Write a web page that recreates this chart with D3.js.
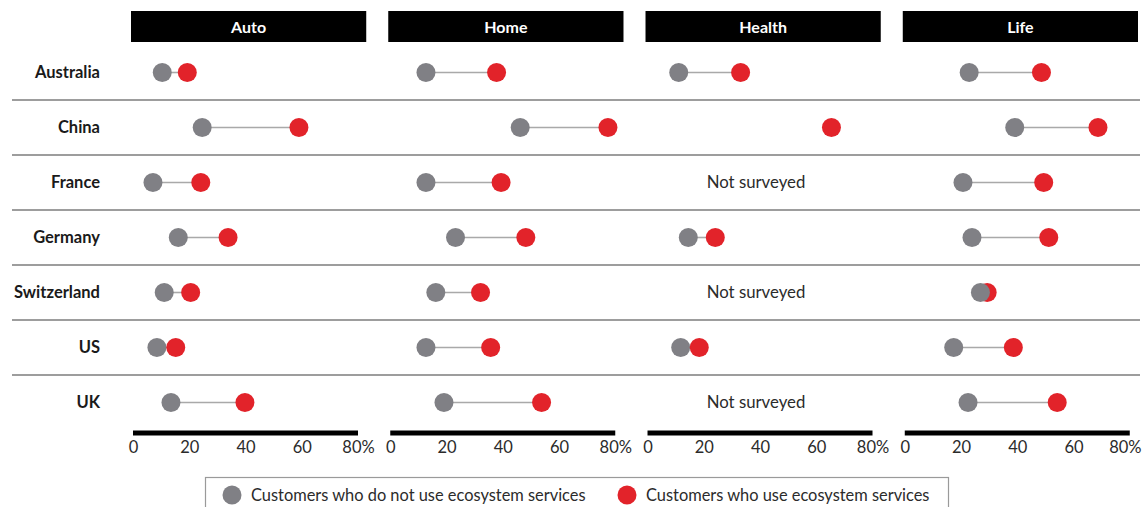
<!DOCTYPE html>
<html>
<head>
<meta charset="utf-8">
<script src="https://cdn.jsdelivr.net/npm/d3@7"></script>
<style>
  html, body { margin: 0; padding: 0; background: #fff; }
  svg { display: block; font-family: Lato, "Noto Sans", sans-serif; }
</style>
</head>
<body>
<svg id="chart" width="1143" height="507"></svg>
<script>
// Insurance lines shown as panels, countries as rows
const categories = ["Auto", "Home", "Health", "Life"];
const countries = ["Australia", "China", "France", "Germany", "Switzerland", "US", "UK"];

// Share of customers (%) – null means no value for that country
const nonUsersAuto   = [10.4, 24.6, 7.1, 16.1, 11.1, 8.5, 13.5];
const usersAuto      = [19.3, 59.0, 24.1, 33.8, 20.5, 15.2, 39.8];
const nonUsersHome   = [12.7, 46.2, 12.7, 23.2, 16.2, 12.7, 19.1];
const usersHome      = [37.8, 77.4, 39.4, 48.2, 32.1, 35.7, 53.8];
const nonUsersHealth = [11.1, null, null, 14.5, null, 11.8, null];
const usersHealth    = [33.1, 65.4, null, 24.1, null, 18.4, null];
const nonUsersLife   = [22.9, 39.1, 20.7, 23.9, 26.9, 17.4, 22.5];
const usersLife      = [48.6, 68.7, 49.4, 51.2, 29.3, 38.6, 54.2];

// Rows where the health line was not part of the survey
const notSurveyed = { Health: ["France", "Switzerland", "UK"] };
// Rows where the non-user dot sits in front of the user dot
const nonUserInFront = { Life: ["Switzerland"] };

const tickValues = [0, 20, 40, 60, 80];
const seriesNames = ["Customers who do not use ecosystem services", "Customers who use ecosystem services"];

const nonUsers = { Auto: nonUsersAuto, Home: nonUsersHome, Health: nonUsersHealth, Life: nonUsersLife };
const users    = { Auto: usersAuto,    Home: usersHome,    Health: usersHealth,    Life: usersLife };

const GREY = "#808085", RED = "#e2232a", TEXT = "#2b2b2b";
const R = 9.5;
const W = 1143;

const svg = d3.select("#chart");

const panelX = d3.scaleBand().domain(categories).range([131, 1138]).paddingInner(0.0856);
const rowY = d3.scaleBand().domain(countries).range([45, 430]);
const axisWidth = 225;

// Row separators
svg.append("g").selectAll("line")
  .data(countries.slice(1))
  .join("line")
  .attr("x1", 12).attr("x2", 1140)
  .attr("y1", d => rowY(d)).attr("y2", d => rowY(d))
  .attr("stroke", "#7d7d7d").attr("stroke-width", 1.6);

// Country labels
svg.append("g").selectAll("text")
  .data(countries)
  .join("text")
  .attr("x", 100)
  .attr("y", d => rowY(d) + rowY.bandwidth() / 2)
  .attr("dy", "0.35em")
  .attr("text-anchor", "end")
  .attr("font-size", 16.5).attr("font-weight", 700)
  .attr("fill", "#1a1a1a")
  .text(d => d);

categories.forEach(cat => {
  const left = panelX(cat);
  const x = d3.scaleLinear().domain([0, 80]).range([left + 2, left + 2 + axisWidth]);
  const g = svg.append("g");

  // Header
  g.append("rect")
    .attr("x", left).attr("y", 11)
    .attr("width", panelX.bandwidth()).attr("height", 31)
    .attr("fill", "#000");
  g.append("text")
    .attr("x", left + panelX.bandwidth() / 2).attr("y", 27)
    .attr("dy", "0.35em").attr("text-anchor", "middle")
    .attr("font-size", 16).attr("font-weight", 700).attr("fill", "#fff")
    .text(cat);

  // Axis: thick baseline with percentage labels
  const axis = d3.axisBottom(x)
    .tickValues(tickValues)
    .tickSize(0).tickPadding(8)
    .tickFormat(d => d === 80 ? "80%" : d);
  const ag = g.append("g").attr("transform", "translate(0,433)").call(axis);
  ag.select(".domain").attr("stroke", "#000").attr("stroke-width", 5).attr("d", `M${x(0)},0H${x(80)}`);
  ag.selectAll("text").attr("font-size", 16.5).attr("fill", TEXT)
    .attr("font-family", "Lato, 'Noto Sans', sans-serif");
  // keep the last label inside the page
  ag.selectAll(".tick text").each(function (d) {
    const half = this.getComputedTextLength() / 2;
    const over = x(d) + half - (W - 2);
    if (over > 0) d3.select(this).attr("dx", -over);
  });

  const skip = notSurveyed[cat] || [];
  const front = nonUserInFront[cat] || [];

  countries.forEach((c, i) => {
    const cy = rowY(c) + rowY.bandwidth() / 2;
    if (skip.includes(c)) {
      g.append("text")
        .attr("x", x(40) - 4).attr("y", cy).attr("dy", "0.35em")
        .attr("text-anchor", "middle")
        .attr("font-size", 16.8).attr("fill", TEXT)
        .text("Not surveyed");
      return;
    }
    const a = nonUsers[cat][i], b = users[cat][i];
    if (a != null && b != null) {
      g.append("line")
        .attr("x1", x(a)).attr("x2", x(b))
        .attr("y1", cy).attr("y2", cy)
        .attr("stroke", "#a9a9a9").attr("stroke-width", 1.6);
    }
    const dots = [];
    if (a != null) dots.push({ v: a, color: GREY });
    if (b != null) dots.push({ v: b, color: RED });
    if (front.includes(c)) dots.reverse();
    g.selectAll(null)
      .data(dots)
      .join("circle")
      .attr("cx", d => x(d.v)).attr("cy", cy).attr("r", R)
      .attr("fill", d => d.color);
  });
});

// Legend
const lg = svg.append("g");
lg.append("rect")
  .attr("x", 205.5).attr("y", 477.5)
  .attr("width", 743).attr("height", 45)
  .attr("fill", "none").attr("stroke", "#9a9a9a").attr("stroke-width", 1.2);
const legendItems = [
  { name: seriesNames[0], color: GREY, x: 232 },
  { name: seriesNames[1], color: RED, x: 627 }
];
legendItems.forEach(it => {
  lg.append("circle").attr("cx", it.x).attr("cy", 495).attr("r", R).attr("fill", it.color);
  lg.append("text")
    .attr("x", it.x + 19).attr("y", 495).attr("dy", "0.35em")
    .attr("font-size", 16.4).attr("fill", TEXT)
    .text(it.name);
});
</script>
</body>
</html>
